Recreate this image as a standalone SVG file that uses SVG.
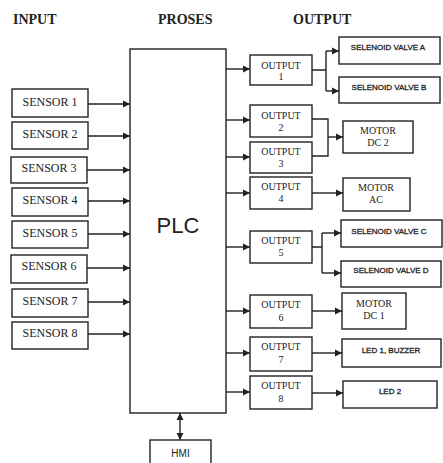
<svg xmlns="http://www.w3.org/2000/svg" width="443" height="463" viewBox="0 0 443 463">
<style>
rect{fill:#fff;stroke:#222;stroke-width:1.4}
.c path{fill:none;stroke:#222;stroke-width:1.4}
.h{font-family:"Liberation Serif","Times New Roman",serif;font-weight:bold;font-size:14px;fill:#222}
.s{font-family:"Liberation Serif","Times New Roman",serif;font-size:12px;fill:#222;text-anchor:middle}
.o{font-family:"Liberation Serif","Times New Roman",serif;font-size:10px;fill:#222;text-anchor:middle}
.v{font-family:"Liberation Sans",sans-serif;font-size:8px;fill:#222;text-anchor:middle;stroke:#222;stroke-width:0.3}
.p{font-family:"Liberation Sans",sans-serif;font-size:22px;fill:#222;text-anchor:middle}
.m{font-family:"Liberation Sans",sans-serif;font-size:10px;fill:#222;text-anchor:middle}
</style>
<defs>
<marker id="a" markerUnits="userSpaceOnUse" markerWidth="8" markerHeight="8" refX="7" refY="4" orient="auto-start-reverse"><path d="M0,0.5 L7,4 L0,7.5 Z" fill="#222"/></marker>
</defs>
<text class="h" x="13" y="24">INPUT</text>
<text class="h" x="158" y="24">PROSES</text>
<text class="h" x="293" y="24">OUTPUT</text>

<g id="plc"><rect x="130" y="49" width="96" height="364"/><text class="p" x="178" y="233">PLC</text></g>
<g id="hmi"><rect x="150" y="440" width="61" height="30"/><text class="m" x="180.5" y="457">HMI</text></g>

<g id="sensor1"><rect x="12" y="89" width="76" height="28"/><text class="s" x="50" y="106">SENSOR 1</text></g>
<g id="sensor2"><rect x="12" y="122" width="76" height="27"/><text class="s" x="50" y="138">SENSOR 2</text></g>
<g id="sensor3"><rect x="11" y="157" width="76" height="26"/><text class="s" x="49" y="172">SENSOR 3</text></g>
<g id="sensor4"><rect x="12" y="188" width="76" height="28"/><text class="s" x="50" y="204">SENSOR 4</text></g>
<g id="sensor5"><rect x="12" y="221" width="76" height="27"/><text class="s" x="50" y="237">SENSOR 5</text></g>
<g id="sensor6"><rect x="11" y="255" width="76" height="28"/><text class="s" x="49" y="270">SENSOR 6</text></g>
<g id="sensor7"><rect x="12" y="289" width="76" height="28"/><text class="s" x="50" y="305">SENSOR 7</text></g>
<g id="sensor8"><rect x="12" y="322" width="76" height="27"/><text class="s" x="50" y="337">SENSOR 8</text></g>

<g id="output1"><rect x="250" y="55" width="62" height="30"/><text class="o" x="281" y="68.5">OUTPUT</text><text class="o" x="281" y="80">1</text></g>
<g id="output2"><rect x="250" y="105" width="62" height="32"/><text class="o" x="281" y="119">OUTPUT</text><text class="o" x="281" y="131">2</text></g>
<g id="output3"><rect x="250" y="142" width="62" height="31"/><text class="o" x="281" y="155">OUTPUT</text><text class="o" x="281" y="167">3</text></g>
<g id="output4"><rect x="250" y="177" width="62" height="32"/><text class="o" x="281" y="190">OUTPUT</text><text class="o" x="281" y="202">4</text></g>
<g id="output5"><rect x="250" y="231" width="62" height="32"/><text class="o" x="281" y="244">OUTPUT</text><text class="o" x="281" y="256">5</text></g>
<g id="output6"><rect x="250" y="295" width="62" height="33"/><text class="o" x="281" y="308">OUTPUT</text><text class="o" x="281" y="321">6</text></g>
<g id="output7"><rect x="250" y="337" width="62" height="34"/><text class="o" x="281" y="350">OUTPUT</text><text class="o" x="281" y="363">7</text></g>
<g id="output8"><rect x="250" y="376" width="62" height="33"/><text class="o" x="281" y="389">OUTPUT</text><text class="o" x="281" y="402">8</text></g>

<g id="valveA"><rect x="339" y="37" width="101" height="27"/><text class="v" x="388" y="50">SELENOID VALVE A</text></g>
<g id="valveB"><rect x="339" y="77" width="101" height="26"/><text class="v" x="389" y="90">SELENOID VALVE B</text></g>
<g id="motorDC2"><rect x="343" y="121" width="70" height="32"/><text class="o" x="378" y="134">MOTOR</text><text class="o" x="378" y="146">DC 2</text></g>
<g id="motorAC"><rect x="343" y="178" width="67" height="33"/><text class="o" x="376" y="191">MOTOR</text><text class="o" x="376" y="203">AC</text></g>
<g id="valveC"><rect x="341" y="220" width="101" height="27"/><text class="v" x="389" y="234">SELENOID VALVE C</text></g>
<g id="valveD"><rect x="341" y="261" width="100" height="26"/><text class="v" x="391" y="273">SELENOID VALVE D</text></g>
<g id="motorDC1"><rect x="342" y="293" width="64" height="36"/><text class="o" x="374" y="307">MOTOR</text><text class="o" x="374" y="319">DC 1</text></g>
<g id="led1"><rect x="342" y="339" width="99" height="28"/><text class="v" x="391" y="353">LED 1, BUZZER</text></g>
<g id="led2"><rect x="343" y="381" width="94" height="27"/><text class="v" x="390" y="394">LED 2</text></g>

<g class="c" id="connectors">
<path d="M88,104 H130" marker-end="url(#a)"/>
<path d="M88,136 H130" marker-end="url(#a)"/>
<path d="M87,170 H130" marker-end="url(#a)"/>
<path d="M88,201 H130" marker-end="url(#a)"/>
<path d="M88,234 H130" marker-end="url(#a)"/>
<path d="M87,268 H130" marker-end="url(#a)"/>
<path d="M88,302 H130" marker-end="url(#a)"/>
<path d="M88,334 H130" marker-end="url(#a)"/>
<path d="M180,413 V440" marker-start="url(#a)" marker-end="url(#a)"/>
<path d="M226,69 H250" marker-end="url(#a)"/>
<path d="M226,120 H250" marker-end="url(#a)"/>
<path d="M226,157 H250" marker-end="url(#a)"/>
<path d="M226,193 H250" marker-end="url(#a)"/>
<path d="M226,247 H250" marker-end="url(#a)"/>
<path d="M226,311 H250" marker-end="url(#a)"/>
<path d="M226,353 H250" marker-end="url(#a)"/>
<path d="M226,392 H250" marker-end="url(#a)"/>
<path d="M312,70 H326 M326,51 V91"/>
<path d="M326,51 H339" marker-end="url(#a)"/>
<path d="M326,91 H339" marker-end="url(#a)"/>
<path d="M312,119 H328 V156 H312"/>
<path d="M328,137 H343" marker-end="url(#a)"/>
<path d="M312,193 H343" marker-end="url(#a)"/>
<path d="M312,247 H322 M322,233 V273"/>
<path d="M322,233 H341" marker-end="url(#a)"/>
<path d="M322,273 H341" marker-end="url(#a)"/>
<path d="M312,311 H342" marker-end="url(#a)"/>
<path d="M312,353 H342" marker-end="url(#a)"/>
<path d="M312,393 H343" marker-end="url(#a)"/>
</g>
</svg>
